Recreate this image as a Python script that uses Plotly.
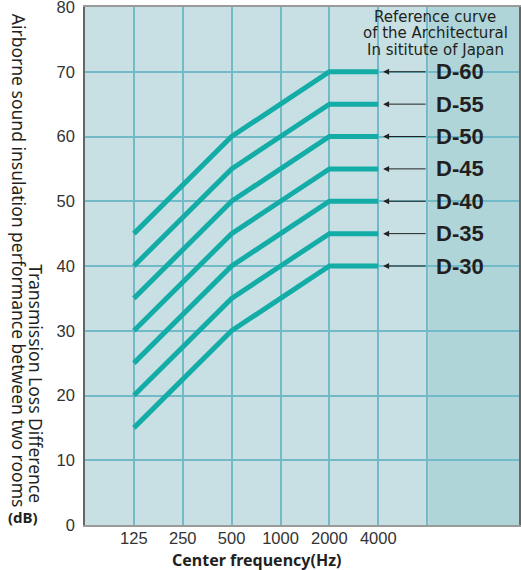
import plotly.graph_objects as go

# Data
freq_labels = ["125", "250", "500", "1000", "2000", "4000"]
curve_names = ["D-60", "D-55", "D-50", "D-45", "D-40", "D-35", "D-30"]
d60 = [45, 52.5, 60, 65, 70, 70]
d55 = [40, 47.5, 55, 60, 65, 65]
d50 = [35, 42.5, 50, 55, 60, 60]
d45 = [30, 37.5, 45, 50, 55, 55]
d40 = [25, 32.5, 40, 45, 50, 50]
d35 = [20, 27.5, 35, 40, 45, 45]
d30 = [15, 22.5, 30, 35, 40, 40]
curves = [d60, d55, d50, d45, d40, d35, d30]
y_ticks = [0, 10, 20, 30, 40, 50, 60, 70, 80]
header_lines = ["Reference curve", "of the Architectural", "In sititute of Japan"]

teal = '#13aca7'
grid = '#72bac8'
text_col = '#231f20'

xpos = list(range(1, len(freq_labels) + 1))

fig = go.Figure()

for name, vals in zip(curve_names, curves):
    fig.add_trace(go.Scatter(
        x=xpos, y=vals, mode='lines', name=name,
        line=dict(color=teal, width=5),
        showlegend=False, hoverinfo='skip'
    ))

# darker band on the right
fig.add_shape(type='rect', xref='x', yref='paper', x0=7.03, x1=8.9, y0=0, y1=1,
              fillcolor='#afd5d9', line=dict(width=0), layer='between')

# arrows and labels
for name, vals in zip(curve_names, curves):
    fig.add_annotation(x=6.1, y=vals[-1], ax=7.0, ay=vals[-1], xref='x', yref='y',
                       axref='x', ayref='y', text='', showarrow=True,
                       arrowhead=2, arrowsize=1.2, arrowwidth=1, arrowcolor='#222')
    fig.add_annotation(x=7.14, y=vals[-1], xref='x', yref='y', text='<b>' + name + '</b>',
                       showarrow=False, xanchor='left', yanchor='middle',
                       font=dict(family='Liberation Sans, Arial', size=22, color=text_col))

# header, one annotation per line to keep the tight spacing
for i, line in enumerate(header_lines):
    fig.add_annotation(x=7.17, y=78.5 - i * 2.55, xref='x', yref='y', text=line,
                       showarrow=False, xanchor='center', yanchor='middle',
                       font=dict(family='DejaVu Sans', size=15, color=text_col))

# y axis title pieces
fig.add_annotation(x=-0.152, y=0.51, xref='paper', yref='paper',
                   text='Airborne sound insulation performance between two rooms',
                   textangle=90, showarrow=False, xanchor='center', yanchor='middle',
                   font=dict(family='Noto Sans', size=17.5, color=text_col))
fig.add_annotation(x=-0.113, y=0.272, xref='paper', yref='paper',
                   text='Transmission Loss Difference',
                   textangle=90, showarrow=False, xanchor='center', yanchor='middle',
                   font=dict(family='Noto Sans', size=17.5, color=text_col))
fig.add_annotation(x=-0.142, y=0.015, xref='paper', yref='paper', text='<b>(dB)</b>',
                   showarrow=False, xanchor='center', yanchor='middle',
                   font=dict(family='Noto Sans', size=15, color=text_col))

# x axis title
fig.add_annotation(x=3.5, y=-0.067, xref='x', yref='paper', text='<b>Center frequency(Hz)</b>',
                   showarrow=False, xanchor='center', yanchor='middle',
                   font=dict(family='Noto Sans', size=16, color=text_col))

fig.update_layout(
    width=521, height=570,
    margin=dict(l=85, r=2, t=7, b=45, pad=0),
    plot_bgcolor='#c8e0e4', paper_bgcolor='white',
    font=dict(family='Liberation Sans, Arial', size=16.5, color='#333'),
    showlegend=False,
)
fig.update_xaxes(range=[0, 8.88], tickvals=xpos + [7], ticktext=freq_labels + [''],
                 showgrid=True, gridcolor=grid, gridwidth=1.5, zeroline=False,
                 showline=True, linecolor='#9a9a9a', linewidth=1.5, mirror=True,
                 ticks='', ticklabelstandoff=-3, automargin=False)
fig.update_yaxes(range=[0, 80], tickvals=y_ticks, showgrid=True, gridcolor=grid, gridwidth=1.5,
                 zeroline=False, showline=True, linecolor='#666', linewidth=1.5, mirror=True,
                 ticks='outside', ticklen=5, tickcolor='rgba(0,0,0,0)', automargin=False,
                 ticklabeloverflow='allow')

fig.write_html("out.html", config={'displayModeBar': False},
               post_script="document.body.style.margin='0';document.body.style.overflow='hidden';")
